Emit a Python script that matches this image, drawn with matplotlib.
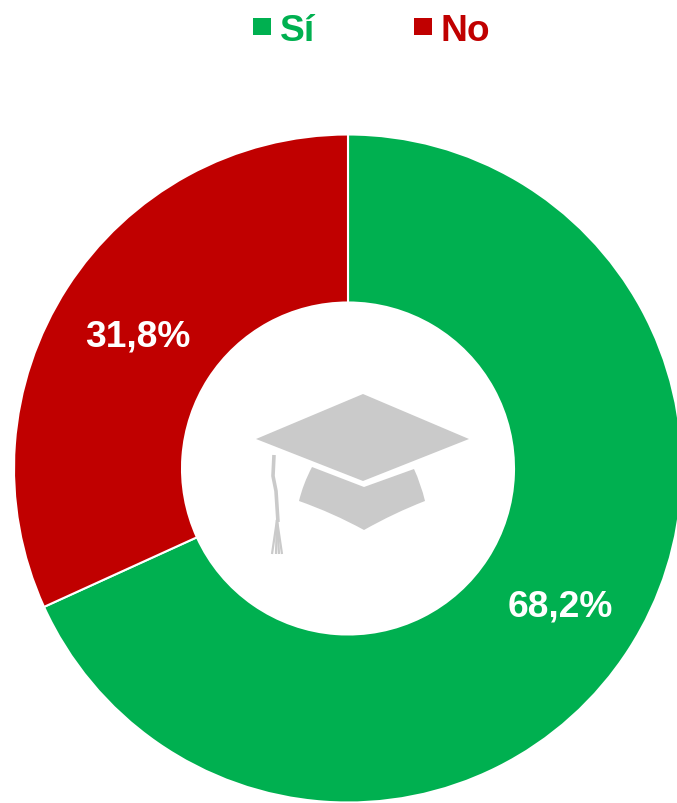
import matplotlib
matplotlib.use("Agg")
import matplotlib.pyplot as plt
from matplotlib.patches import Polygon, Rectangle, PathPatch
from matplotlib.path import Path

plt.rcParams["font.family"] = ["Liberation Sans", "DejaVu Sans"]

labels = ["Sí", "No"]
values = [68.2, 31.8]
value_labels = ["68,2%", "31,8%"]
colors = ["#00B050", "#C00000"]

W, H = 677, 804
ICON_GREY = "#CACACA"


# picture coordinates have y going down
def flip(points):
    return [(x, H - y) for x, y in points]


fig = plt.figure(figsize=(W / 100, H / 100), dpi=100)
ax = fig.add_axes([0, 0, 1, 1])

# DONUT

ax.pie(
    values,
    colors=colors,
    startangle=90,
    counterclock=False,
    center=(348, H - 469.5),
    radius=334,
    wedgeprops=dict(width=168, edgecolor="white", linewidth=1.5),
    frame=False,
)
ax.set_xlim(0, W)
ax.set_ylim(0, H)
ax.set_aspect("equal")
ax.axis("off")

# VALUE LABELS

ax.text(560, H - 607, value_labels[0], color="white", fontsize=26.7,
        fontweight="bold", ha="center", va="center")
ax.text(138, H - 337, value_labels[1], color="white", fontsize=26.7,
        fontweight="bold", ha="center", va="center")

# LEGEND

ax.add_patch(Rectangle((253, H - 36), 18, 17, color=colors[0], lw=0))
ax.text(280, H - 41, labels[0], color=colors[0], fontsize=26.7,
        fontweight="bold", ha="left", va="baseline")
ax.add_patch(Rectangle((414, H - 36), 18, 17, color=colors[1], lw=0))
ax.text(441, H - 41, labels[1], color=colors[1], fontsize=26.7,
        fontweight="bold", ha="left", va="baseline")

# GRADUATION CAP ICON

board = [(256, 440), (363, 395), (469, 440), (363, 482)]
ax.add_patch(Polygon(flip(board), closed=True, color=ICON_GREY, lw=0))

base = [(312, 468), (364, 488), (414, 470), (421, 485), (425, 502),
        (394, 514), (364, 531), (333, 514), (299, 502), (303, 485), (312, 468)]
base_codes = [Path.MOVETO, Path.LINETO, Path.LINETO, Path.CURVE3, Path.CURVE3,
              Path.CURVE3, Path.CURVE3, Path.CURVE3, Path.CURVE3, Path.CURVE3,
              Path.CURVE3]
ax.add_patch(PathPatch(Path(flip(base), base_codes), color=ICON_GREY, lw=0))

cord = flip([(274, 456), (273, 477), (276, 492), (278, 523)])
ax.plot(*zip(*cord), color=ICON_GREY, lw=2.6, solid_capstyle="butt")
for end_x in (272, 276, 279, 282):
    fringe = flip([(277, 521), (end_x, 555)])
    ax.plot(*zip(*fringe), color=ICON_GREY, lw=1.6, solid_capstyle="butt")

fig.savefig("out.png", dpi=100)
